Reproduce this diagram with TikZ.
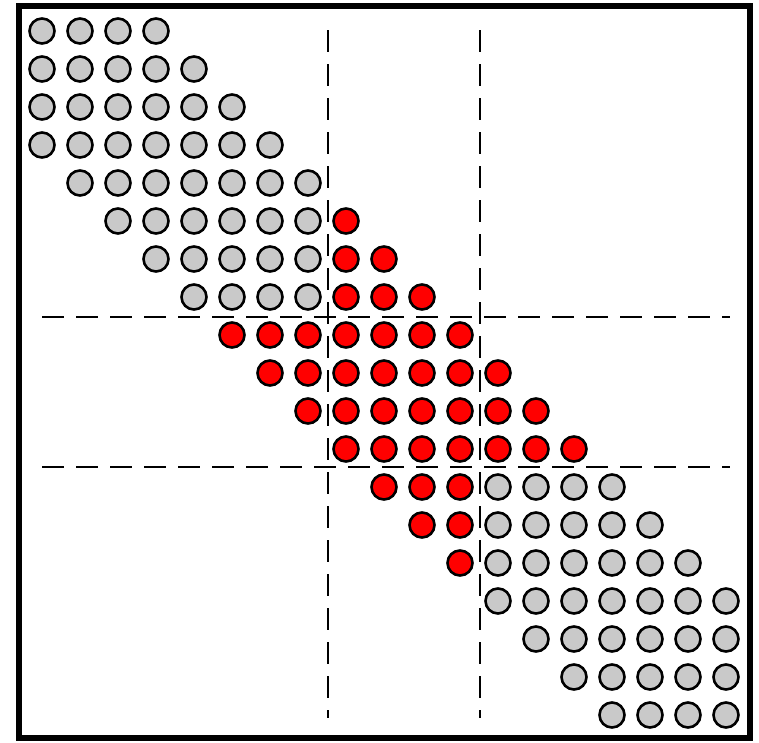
\documentclass[tikz,border=0pt]{standalone}
\begin{document}
\begin{tikzpicture}[x=1pt,y=-1pt,
  dot/.style={circle,draw=black,line width=2.6pt,minimum size=25pt,inner sep=0pt},
  grayball/.style={dot,fill=black!21},
  redball/.style={dot,fill=red},
  divider/.style={line width=2.8pt,dash pattern=on 22pt off 12pt},
  frame/.style={line width=6pt}]
\useasboundingbox (0,0) rectangle (759,742);
\fill[white] (0,0) rectangle (759,742);
\draw[frame] (18.5,6) rectangle (750,738);
% dividers
\coordinate (v1t) at (328,30); \coordinate (v1b) at (328,718);
\coordinate (v2t) at (480,30); \coordinate (v2b) at (480,718);
\coordinate (h1l) at (42,317); \coordinate (h1r) at (730,317);
\coordinate (h2l) at (42,467); \coordinate (h2r) at (730,467);
\draw[divider] (v1t) -- (v1b);
\draw[divider] (v2t) -- (v2b);
\draw[divider] (h1l) -- (h1r);
\draw[divider] (h2l) -- (h2r);
% band of balls
\foreach \i in {0,...,18}{
  \pgfmathtruncatemacro{\jlo}{max(0,\i-3)}
  \pgfmathtruncatemacro{\jhi}{min(18,\i+3)}
  \foreach \j in {\jlo,...,\jhi}{
    \pgfmathtruncatemacro{\isred}{((\i>7)&&(\i<12))||((\j>7)&&(\j<12)) ? 1 : 0}
    \ifnum\isred=1
      \node[redball] (c-\i-\j) at ({42+38*\j},{31+38*\i}) {};
    \else
      \node[grayball] (c-\i-\j) at ({42+38*\j},{31+38*\i}) {};
    \fi
  }
}
\end{tikzpicture}
\end{document}
